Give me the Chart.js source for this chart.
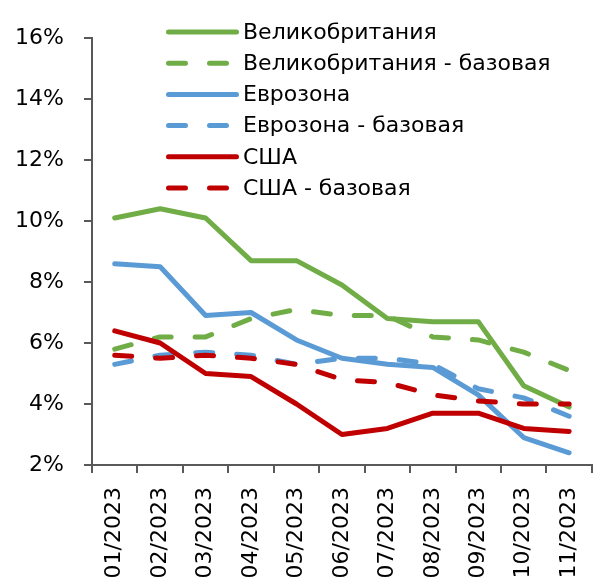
<!DOCTYPE html>
<html lang="ru">
<head>
<meta charset="UTF-8">
<title>Инфляция</title>
<script src="https://cdn.jsdelivr.net/npm/chart.js"></script>
<style>
  html, body { margin: 0; padding: 0; background: #fff; overflow: hidden; }
  #wrap { width: 610px; height: 600px; }
</style>
</head>
<body>
<div id="wrap"><canvas id="chart" width="610" height="600"></canvas></div>
<script>
const months = ["01/2023", "02/2023", "03/2023", "04/2023", "05/2023", "06/2023",
                "07/2023", "08/2023", "09/2023", "10/2023", "11/2023"]

const ukHeadline = [10.1, 10.4, 10.1, 8.7, 8.7, 7.9, 6.8, 6.7, 6.7, 4.6, 3.9]
const ukCore     = [5.8, 6.2, 6.2, 6.8, 7.1, 6.9, 6.9, 6.2, 6.1, 5.7, 5.1]
const ezHeadline = [8.6, 8.5, 6.9, 7.0, 6.1, 5.5, 5.3, 5.2, 4.3, 2.9, 2.4]
const ezCore     = [5.3, 5.6, 5.7, 5.6, 5.3, 5.5, 5.5, 5.3, 4.5, 4.2, 3.6]
const usHeadline = [6.4, 6.0, 5.0, 4.9, 4.0, 3.0, 3.2, 3.7, 3.7, 3.2, 3.1]
const usCore     = [5.6, 5.5, 5.6, 5.5, 5.3, 4.8, 4.7, 4.3, 4.1, 4.0, 4.0]

const seriesNames = ["Великобритания", "Великобритания - базовая", "Еврозона",
                     "Еврозона - базовая", "США", "США - базовая"]

const yTicks = [2, 4, 6, 8, 10, 12, 14, 16]

const GREEN = "#70AD47", BLUE = "#5B9BD5", RED = "#C00000"
const FONT = "'DejaVu Sans', sans-serif"
const DASH = [17, 24]
const AXIS = "#595959"

const mk = (i, data, color, dashed) => ({
  label: seriesNames[i],
  data,
  borderColor: color,
  backgroundColor: color,
  borderWidth: 5,
  borderDash: dashed ? DASH : [],
  borderCapStyle: "round",
  borderJoinStyle: "round",
  pointRadius: 0,
  tension: 0,
  fill: false,
  order: 6 - i, // later series drawn on top, as in the original
})

// legend drawn in a column over the plot, like the source image
const sideLegend = {
  id: "sideLegend",
  afterDraw(chart) {
    const ctx = chart.ctx
    chart.data.datasets.forEach((ds, i) => {
      const y = 32 + i * 31.2
      ctx.save()
      ctx.strokeStyle = ds.borderColor
      ctx.lineWidth = 5
      ctx.lineCap = "round"
      ctx.setLineDash(ds.borderDash)
      ctx.beginPath()
      ctx.moveTo(168.5, y)
      ctx.lineTo(236.5, y)
      ctx.stroke()
      ctx.setLineDash([])
      ctx.fillStyle = "#000"
      ctx.font = "22px " + FONT
      ctx.textBaseline = "middle"
      ctx.fillText(ds.label, 243, y + 1)
      ctx.restore()
    })
  }
}

new Chart(document.getElementById("chart"), {
  type: "line",
  data: {
    labels: months,
    datasets: [
      mk(0, ukHeadline, GREEN, false),
      mk(1, ukCore, GREEN, true),
      mk(2, ezHeadline, BLUE, false),
      mk(3, ezCore, BLUE, true),
      mk(4, usHeadline, RED, false),
      mk(5, usCore, RED, true),
    ]
  },
  options: {
    responsive: false,
    animation: false,
    layout: { padding: { top: 38, right: 10, left: 0, bottom: 0 } },
    plugins: { legend: { display: false }, tooltip: { enabled: false } },
    scales: {
      x: {
        offset: true,
        afterFit: s => { s.height = 135 },
        grid: { offset: true, drawOnChartArea: false, drawTicks: true, tickLength: 8, color: AXIS, lineWidth: 2 },
        border: { color: AXIS, width: 2 },
        ticks: { color: "#000", font: { family: FONT, size: 22 }, minRotation: 90, maxRotation: 90, padding: 14, autoSkip: false }
      },
      y: {
        min: 2,
        max: 16,
        afterFit: s => { s.width = 92 },
        afterBuildTicks: s => { s.ticks = yTicks.map(v => ({ value: v })) },
        grid: { drawOnChartArea: false, drawTicks: true, tickLength: 8, color: AXIS, lineWidth: 2 },
        border: { color: AXIS, width: 2 },
        ticks: { color: "#000", font: { family: FONT, size: 22 }, padding: 20, callback: v => v + "%" }
      }
    }
  },
  plugins: [sideLegend]
})
</script>
</body>
</html>
